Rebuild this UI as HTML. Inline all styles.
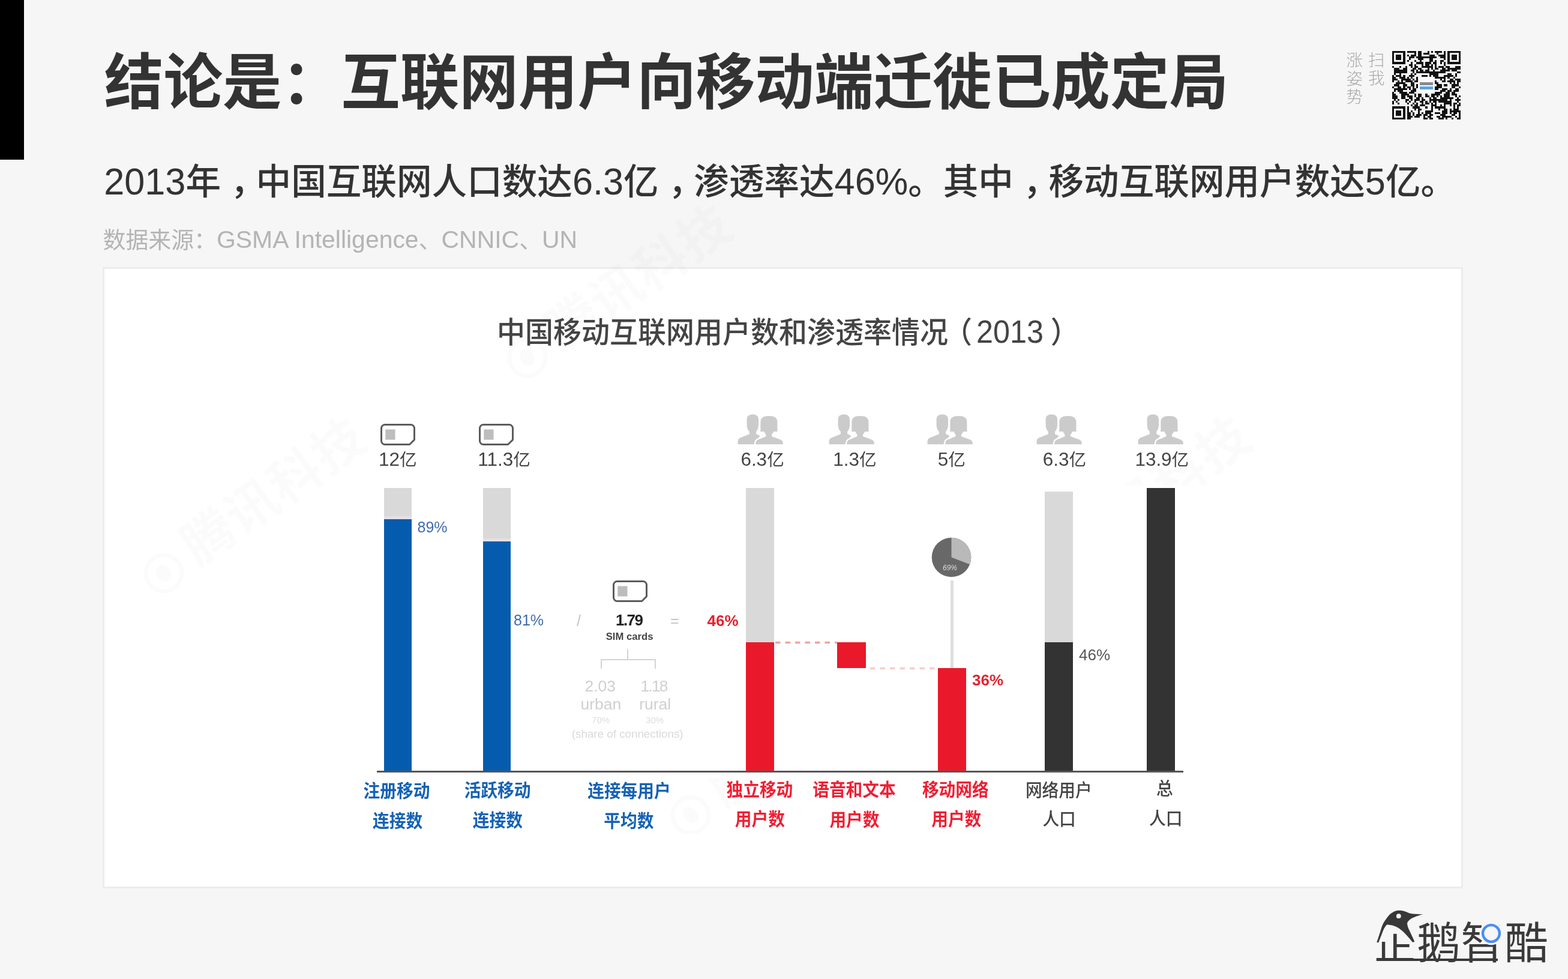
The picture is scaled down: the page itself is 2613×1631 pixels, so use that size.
<!DOCTYPE html><html lang="zh-CN"><head><meta charset="utf-8"><title>结论是：互联网用户向移动端迁徙已成定局</title><style>
html,body{margin:0;padding:0;background:#f6f6f6}
header,main,figure,footer{display:block;margin:0;padding:0}
body{width:2613px;height:1631px;background:#f6f6f6;position:relative;overflow:hidden;font-family:"Liberation Sans","Noto Sans CJK SC",sans-serif}
.abs{position:absolute;display:block}
.t{position:absolute;white-space:nowrap;margin:0;padding:0}
.cm{position:relative;left:16px}
.d{font-size:1.045em}
.d2{font-size:1.07em}
.d3{font-size:1.08em}
.lp{position:relative;left:-7px}
.dv{font-size:1.1em}
.qi{display:inline-block;clip-path:polygon(0 45.5%,44% 45.5%,44% 28.5%,58% 28.5%,58% 45.5%,100% 45.5%,100% 100%,0 100%)}
.rp{position:relative;left:12px}
#card{left:171px;top:445px;width:2267px;height:1034.5px;background:#fff;box-sizing:border-box;border:3px solid #ececec}
.bar{position:absolute}
.wm{position:absolute;white-space:nowrap;font-weight:700;line-height:1;letter-spacing:2px;transform-origin:.4em 50%}
.wmc{display:inline-block;width:.62em;height:.62em;border:.09em solid;border-radius:50%;vertical-align:-.12em;margin-right:.22em;position:relative}
.wmc i{position:absolute;left:.18em;top:.14em;width:.26em;height:.34em;border-radius:50%}
</style></head><body>
<header>
<div class="abs" style="left:0;top:0;width:40px;height:266px;background:#000"></div>
<div id="title" class="t" style="left:173.8px;top:78.71px;font-size:98.6px;font-weight:700;color:#333;line-height:118.32px;transform:scaleY(1.03);">结论是：互联网用户向移动端迁徙已成定局</div>
<div id="sub" class="t" style="left:173.2px;top:266.81px;font-size:58.6px;font-weight:500;color:#333;line-height:70.32px;transform:scaleY(1.03);"><span class="d">2013</span>年<span class="cm">，</span>中国互联网人口数达<span class="d">6.3</span>亿<span class="cm">，</span>渗透率达<span class="d">46%</span>。其中<span class="cm">，</span>移动互联网用户数达<span class="d">5</span>亿。</div>
<div id="src" class="t" style="left:171.5px;top:376.72px;font-size:37.9px;font-weight:400;color:#b4b4b4;line-height:45.48px;">数据来源：<span class="d3">GSMA Intelligence</span>、<span class="d3">CNNIC</span>、<span class="d3">UN</span></div>
<div id="qr1" class="t" style="left:2280px;top:85.87px;font-size:27.5px;font-weight:300;color:#a9a9a9;line-height:30.5px;">扫<br>我</div>
<div id="qr2" class="t" style="left:2243.5px;top:86.37px;font-size:27.5px;font-weight:300;color:#a9a9a9;line-height:30.5px;">涨<br>姿<br>势</div>
<svg class="abs" style="left:2320px;top:85px" width="114" height="114" viewBox="0 0 37 37" shape-rendering="crispEdges"><rect width="37" height="37" fill="#f4f4f4"/><path d="M0 0h7v1h-7zM8 0h5v1h-5zM14 0h2v1h-2zM19 0h1v1h-1zM21 0h1v1h-1zM23 0h4v1h-4zM28 0h1v1h-1zM30 0h7v1h-7zM0 1h1v1h-1zM6 1h1v1h-1zM12 1h1v1h-1zM14 1h2v1h-2zM17 1h3v1h-3zM24 1h1v1h-1zM28 1h1v1h-1zM30 1h1v1h-1zM36 1h1v1h-1zM0 2h1v1h-1zM2 2h3v1h-3zM6 2h1v1h-1zM8 2h1v1h-1zM10 2h3v1h-3zM14 2h2v1h-2zM20 2h3v1h-3zM25 2h4v1h-4zM30 2h1v1h-1zM32 2h3v1h-3zM36 2h1v1h-1zM0 3h1v1h-1zM2 3h3v1h-3zM6 3h1v1h-1zM9 3h3v1h-3zM13 3h11v1h-11zM26 3h3v1h-3zM30 3h1v1h-1zM32 3h3v1h-3zM36 3h1v1h-1zM0 4h1v1h-1zM2 4h3v1h-3zM6 4h1v1h-1zM9 4h1v1h-1zM14 4h3v1h-3zM20 4h2v1h-2zM28 4h1v1h-1zM30 4h1v1h-1zM32 4h3v1h-3zM36 4h1v1h-1zM0 5h1v1h-1zM6 5h1v1h-1zM8 5h1v1h-1zM12 5h1v1h-1zM15 5h1v1h-1zM20 5h2v1h-2zM23 5h1v1h-1zM26 5h2v1h-2zM30 5h1v1h-1zM36 5h1v1h-1zM0 6h7v1h-7zM10 6h1v1h-1zM13 6h4v1h-4zM18 6h3v1h-3zM22 6h2v1h-2zM26 6h1v1h-1zM28 6h1v1h-1zM30 6h7v1h-7zM9 7h2v1h-2zM12 7h1v1h-1zM16 7h1v1h-1zM18 7h2v1h-2zM21 7h1v1h-1zM23 7h1v1h-1zM28 7h1v1h-1zM0 8h1v1h-1zM4 8h1v1h-1zM7 8h1v1h-1zM10 8h1v1h-1zM12 8h2v1h-2zM16 8h6v1h-6zM23 8h1v1h-1zM25 8h3v1h-3zM29 8h2v1h-2zM34 8h3v1h-3zM1 9h3v1h-3zM6 9h2v1h-2zM11 9h2v1h-2zM14 9h2v1h-2zM19 9h1v1h-1zM21 9h1v1h-1zM23 9h2v1h-2zM27 9h2v1h-2zM30 9h7v1h-7zM1 10h7v1h-7zM10 10h2v1h-2zM13 10h1v1h-1zM15 10h2v1h-2zM18 10h2v1h-2zM22 10h1v1h-1zM26 10h5v1h-5zM32 10h3v1h-3zM1 11h7v1h-7zM11 11h1v1h-1zM13 11h16v1h-16zM35 11h2v1h-2zM1 12h1v1h-1zM4 12h1v1h-1zM10 12h1v1h-1zM12 12h1v1h-1zM20 12h5v1h-5zM30 12h2v1h-2zM34 12h1v1h-1zM0 13h1v1h-1zM2 13h3v1h-3zM6 13h1v1h-1zM9 13h3v1h-3zM16 13h3v1h-3zM20 13h1v1h-1zM22 13h3v1h-3zM28 13h5v1h-5zM34 13h1v1h-1zM0 14h2v1h-2zM4 14h3v1h-3zM8 14h1v1h-1zM10 14h1v1h-1zM13 14h1v1h-1zM23 14h6v1h-6zM30 14h1v1h-1zM33 14h1v1h-1zM0 15h3v1h-3zM5 15h5v1h-5zM11 15h1v1h-1zM13 15h1v1h-1zM26 15h1v1h-1zM28 15h1v1h-1zM31 15h2v1h-2zM34 15h3v1h-3zM0 16h1v1h-1zM3 16h1v1h-1zM5 16h1v1h-1zM7 16h4v1h-4zM12 16h2v1h-2zM23 16h1v1h-1zM27 16h2v1h-2zM30 16h4v1h-4zM35 16h2v1h-2zM2 17h5v1h-5zM10 17h2v1h-2zM23 17h2v1h-2zM31 17h1v1h-1zM33 17h1v1h-1zM35 17h1v1h-1zM1 18h3v1h-3zM6 18h2v1h-2zM10 18h2v1h-2zM13 18h1v1h-1zM24 18h3v1h-3zM28 18h2v1h-2zM32 18h4v1h-4zM0 19h1v1h-1zM3 19h2v1h-2zM6 19h1v1h-1zM8 19h2v1h-2zM11 19h1v1h-1zM13 19h1v1h-1zM23 19h4v1h-4zM32 19h2v1h-2zM36 19h1v1h-1zM1 20h7v1h-7zM9 20h1v1h-1zM11 20h2v1h-2zM23 20h2v1h-2zM27 20h3v1h-3zM31 20h1v1h-1zM34 20h2v1h-2zM1 21h1v1h-1zM3 21h3v1h-3zM10 21h3v1h-3zM26 21h3v1h-3zM30 21h2v1h-2zM33 21h3v1h-3zM0 22h1v1h-1zM4 22h4v1h-4zM9 22h3v1h-3zM23 22h4v1h-4zM29 22h2v1h-2zM32 22h2v1h-2zM0 23h2v1h-2zM5 23h4v1h-4zM12 23h1v1h-1zM14 23h2v1h-2zM18 23h1v1h-1zM21 23h5v1h-5zM28 23h3v1h-3zM32 23h3v1h-3zM0 24h3v1h-3zM5 24h2v1h-2zM8 24h3v1h-3zM12 24h1v1h-1zM14 24h2v1h-2zM18 24h2v1h-2zM21 24h2v1h-2zM24 24h1v1h-1zM26 24h1v1h-1zM28 24h3v1h-3zM34 24h1v1h-1zM36 24h1v1h-1zM0 25h3v1h-3zM5 25h2v1h-2zM9 25h2v1h-2zM13 25h2v1h-2zM16 25h1v1h-1zM20 25h1v1h-1zM22 25h2v1h-2zM26 25h7v1h-7zM35 25h1v1h-1zM1 26h1v1h-1zM3 26h1v1h-1zM7 26h2v1h-2zM10 26h1v1h-1zM12 26h3v1h-3zM16 26h2v1h-2zM20 26h10v1h-10zM31 26h1v1h-1zM34 26h3v1h-3zM0 27h1v1h-1zM2 27h1v1h-1zM7 27h1v1h-1zM9 27h1v1h-1zM12 27h1v1h-1zM15 27h2v1h-2zM18 27h1v1h-1zM20 27h1v1h-1zM22 27h2v1h-2zM25 27h7v1h-7zM35 27h1v1h-1zM0 28h1v1h-1zM3 28h1v1h-1zM8 28h1v1h-1zM11 28h1v1h-1zM13 28h1v1h-1zM16 28h1v1h-1zM18 28h2v1h-2zM21 28h1v1h-1zM23 28h1v1h-1zM28 28h4v1h-4zM33 28h2v1h-2zM36 28h1v1h-1zM10 29h1v1h-1zM12 29h2v1h-2zM15 29h3v1h-3zM21 29h3v1h-3zM26 29h1v1h-1zM28 29h1v1h-1zM31 29h1v1h-1zM33 29h1v1h-1zM35 29h2v1h-2zM0 30h7v1h-7zM8 30h1v1h-1zM11 30h4v1h-4zM18 30h1v1h-1zM21 30h1v1h-1zM23 30h6v1h-6zM33 30h1v1h-1zM35 30h1v1h-1zM0 31h1v1h-1zM6 31h1v1h-1zM8 31h1v1h-1zM12 31h1v1h-1zM14 31h2v1h-2zM21 31h1v1h-1zM25 31h1v1h-1zM28 31h2v1h-2zM31 31h1v1h-1zM33 31h3v1h-3zM0 32h1v1h-1zM2 32h3v1h-3zM6 32h1v1h-1zM8 32h1v1h-1zM10 32h1v1h-1zM14 32h1v1h-1zM18 32h4v1h-4zM27 32h3v1h-3zM31 32h6v1h-6zM0 33h1v1h-1zM2 33h3v1h-3zM6 33h1v1h-1zM8 33h2v1h-2zM11 33h1v1h-1zM14 33h1v1h-1zM16 33h1v1h-1zM18 33h3v1h-3zM23 33h3v1h-3zM27 33h3v1h-3zM31 33h1v1h-1zM33 33h2v1h-2zM36 33h1v1h-1zM0 34h1v1h-1zM2 34h3v1h-3zM6 34h1v1h-1zM8 34h2v1h-2zM11 34h1v1h-1zM13 34h3v1h-3zM17 34h2v1h-2zM20 34h2v1h-2zM26 34h3v1h-3zM32 34h2v1h-2zM36 34h1v1h-1zM0 35h1v1h-1zM6 35h1v1h-1zM8 35h3v1h-3zM12 35h3v1h-3zM17 35h1v1h-1zM19 35h2v1h-2zM24 35h2v1h-2zM27 35h5v1h-5zM34 35h1v1h-1zM36 35h1v1h-1zM0 36h7v1h-7zM8 36h2v1h-2zM17 36h2v1h-2zM20 36h2v1h-2zM25 36h3v1h-3zM29 36h1v1h-1zM32 36h1v1h-1zM35 36h2v1h-2z" fill="#111"/><rect x="14.2" y="14.2" width="8.6" height="8.6" fill="#fbfbfb"/><rect x="15" y="17" width="7" height="1.6" fill="#8a8a8a"/><rect x="15" y="19.3" width="7" height="1.6" fill="#5ba4e6"/></svg>
</header>
<main>
<div id="card" class="abs"></div>
<div class="wms">
<div class="wm" style="left:876px;top:590px;font-size:86px;color:rgba(0,0,0,0.016);transform:translate(-.4em,-50%) rotate(-34deg)"><span class="wmc" style="border-color:rgba(0,0,0,0.016)"><i style="background:rgba(0,0,0,0.016)"></i></span>腾讯科技</div>
<div class="wm" style="left:270px;top:949px;font-size:86px;color:rgba(0,0,0,0.016);transform:translate(-.4em,-50%) rotate(-35deg)"><span class="wmc" style="border-color:rgba(0,0,0,0.016)"><i style="background:rgba(0,0,0,0.016)"></i></span>腾讯科技</div>
<div class="abs" style="left:1860px;top:600px;width:340px;height:209px;overflow:hidden"><div class="wm" style="left:-116px;top:347px;font-size:86px;color:rgba(0,0,0,0.016);transform:translate(-.4em,-50%) rotate(-35deg)"><span class="wmc" style="border-color:rgba(0,0,0,0.016)"><i style="background:rgba(0,0,0,0.016)"></i></span>腾讯科技</div></div>
<div class="abs" style="left:1060px;top:1297px;width:200px;height:92px;overflow:hidden"><div class="wm" style="left:88px;top:55px;font-size:86px;color:rgba(0,0,0,0.016);transform:translate(-.4em,-50%) rotate(-35deg)"><span class="wmc" style="border-color:rgba(0,0,0,0.016)"><i style="background:rgba(0,0,0,0.016)"></i></span>腾讯科技</div></div>
</div>
<figure>
<div class="bar" style="left:640px;top:813px;width:46px;height:51px;background:#d9d9d9"></div>
<div class="bar" style="left:640px;top:865px;width:46px;height:420px;background:#055cae"></div>
<div class="bar" style="left:805px;top:813px;width:46px;height:88px;background:#d9d9d9"></div>
<div class="bar" style="left:805px;top:902px;width:46px;height:383px;background:#055cae"></div>
<div class="bar" style="left:1243px;top:813px;width:47px;height:257px;background:#d9d9d9"></div>
<div class="bar" style="left:1243px;top:1070px;width:47px;height:215px;background:#e9192b"></div>
<div class="bar" style="left:1395px;top:1070px;width:48px;height:43px;background:#e9192b"></div>
<div class="bar" style="left:1563px;top:1113px;width:47px;height:172px;background:#e9192b"></div>
<div class="bar" style="left:1741px;top:819px;width:47px;height:251px;background:#d9d9d9"></div>
<div class="bar" style="left:1741px;top:1070px;width:47px;height:215px;background:#333"></div>
<div class="bar" style="left:1911px;top:813px;width:47px;height:472px;background:#333"></div>
<div class="bar" style="left:640px;top:860px;width:46px;height:5px;background:#e3e1e6"></div>
<div class="bar" style="left:805px;top:897px;width:46px;height:5px;background:#e3e1e6"></div>
<div class="bar" style="left:627.5px;top:1284.3px;width:1344.5px;height:3px;background:#555"></div>
<svg class="abs" style="left:1290px;top:1066px" width="275" height="52" viewBox="0 0 275 52"><path d="M2 4.5H105" stroke="#f3a39f" stroke-width="3.4" stroke-dasharray="8.5 8" fill="none"/><path d="M160 47.5H273" stroke="#f5cfc8" stroke-width="3.4" stroke-dasharray="8.5 8" fill="none"/></svg>
<div class="bar" style="left:1584px;top:967px;width:5px;height:146px;background:#dedede"></div>
<svg class="abs" style="left:1552px;top:895px" width="67" height="67" viewBox="-33.5 -33.5 67 67"><circle r="32.8" fill="#686868"/><path d="M0 0V-32.8A32.8 32.8 0 0 1 30.6 11.8Z" fill="#b9b9b9"/></svg>
<svg class="abs" style="left:995px;top:1080px" width="104" height="36" viewBox="0 0 104 36"><path d="M51 2V19M7 34V19H97V34" fill="none" stroke="#d4d4d4" stroke-width="2"/></svg>
<svg class="abs" style="left:632.2px;top:703.6px" width="62" height="40" viewBox="0 0 62 40"><path d="M9.5 3.5H52.5A6 6 0 0 1 58.5 9.5V28.6L50.6 36.5H9.5A6 6 0 0 1 3.5 30.5V9.5A6 6 0 0 1 9.5 3.5Z" fill="#fff" stroke="#5c5c5c" stroke-width="3" stroke-linejoin="round"/><rect x="10.3" y="11.4" width="16.2" height="17.2" fill="#bdbdbd"/></svg>
<svg class="abs" style="left:796.4px;top:703.6px" width="62" height="40" viewBox="0 0 62 40"><path d="M9.5 3.5H52.5A6 6 0 0 1 58.5 9.5V28.6L50.6 36.5H9.5A6 6 0 0 1 3.5 30.5V9.5A6 6 0 0 1 9.5 3.5Z" fill="#fff" stroke="#5c5c5c" stroke-width="3" stroke-linejoin="round"/><rect x="10.3" y="11.4" width="16.2" height="17.2" fill="#bdbdbd"/></svg>
<svg class="abs" style="left:1019px;top:965.1px" width="62" height="40" viewBox="0 0 62 40"><path d="M9.5 3.5H52.5A6 6 0 0 1 58.5 9.5V28.6L50.6 36.5H9.5A6 6 0 0 1 3.5 30.5V9.5A6 6 0 0 1 9.5 3.5Z" fill="#fff" stroke="#5c5c5c" stroke-width="3" stroke-linejoin="round"/><rect x="10.3" y="11.4" width="16.2" height="17.2" fill="#bdbdbd"/></svg>
<svg class="abs" style="left:1228.6px;top:689.5px" width="78" height="52" viewBox="0 0 78 52"><path d="M15.6 9C15.6 3 19 .4 25.3 .4S35 3 35 9V18C35 23 33 27 31.1 29V33L37.5 36L27 50.3H.6V45.5C.6 42 2.5 40 6 38.7L19.9 33.3V29C17.5 27 15.6 23 15.6 18Z" fill="#cbcbcb"/><path d="M38.4 13C38.4 6 43 3 52.4 3S66.4 6 66.4 13V27L67 29H60C59.3 31 58 33 56.9 34V37L70.5 42C74 43.2 75.8 45 75.8 48.5V50.3H30.3V48.5C30.3 45 32 43.2 35.5 42L47.5 37V34C46.4 33 45.2 31 44.5 29H37.8L38.4 27Z" fill="#cbcbcb" stroke="#fff" stroke-width="4.6" paint-order="stroke"/></svg>
<svg class="abs" style="left:1381px;top:689.5px" width="78" height="52" viewBox="0 0 78 52"><path d="M15.6 9C15.6 3 19 .4 25.3 .4S35 3 35 9V18C35 23 33 27 31.1 29V33L37.5 36L27 50.3H.6V45.5C.6 42 2.5 40 6 38.7L19.9 33.3V29C17.5 27 15.6 23 15.6 18Z" fill="#cbcbcb"/><path d="M38.4 13C38.4 6 43 3 52.4 3S66.4 6 66.4 13V27L67 29H60C59.3 31 58 33 56.9 34V37L70.5 42C74 43.2 75.8 45 75.8 48.5V50.3H30.3V48.5C30.3 45 32 43.2 35.5 42L47.5 37V34C46.4 33 45.2 31 44.5 29H37.8L38.4 27Z" fill="#cbcbcb" stroke="#fff" stroke-width="4.6" paint-order="stroke"/></svg>
<svg class="abs" style="left:1544.8px;top:689.5px" width="78" height="52" viewBox="0 0 78 52"><path d="M15.6 9C15.6 3 19 .4 25.3 .4S35 3 35 9V18C35 23 33 27 31.1 29V33L37.5 36L27 50.3H.6V45.5C.6 42 2.5 40 6 38.7L19.9 33.3V29C17.5 27 15.6 23 15.6 18Z" fill="#cbcbcb"/><path d="M38.4 13C38.4 6 43 3 52.4 3S66.4 6 66.4 13V27L67 29H60C59.3 31 58 33 56.9 34V37L70.5 42C74 43.2 75.8 45 75.8 48.5V50.3H30.3V48.5C30.3 45 32 43.2 35.5 42L47.5 37V34C46.4 33 45.2 31 44.5 29H37.8L38.4 27Z" fill="#cbcbcb" stroke="#fff" stroke-width="4.6" paint-order="stroke"/></svg>
<svg class="abs" style="left:1726.5px;top:689.5px" width="78" height="52" viewBox="0 0 78 52"><path d="M15.6 9C15.6 3 19 .4 25.3 .4S35 3 35 9V18C35 23 33 27 31.1 29V33L37.5 36L27 50.3H.6V45.5C.6 42 2.5 40 6 38.7L19.9 33.3V29C17.5 27 15.6 23 15.6 18Z" fill="#cbcbcb"/><path d="M38.4 13C38.4 6 43 3 52.4 3S66.4 6 66.4 13V27L67 29H60C59.3 31 58 33 56.9 34V37L70.5 42C74 43.2 75.8 45 75.8 48.5V50.3H30.3V48.5C30.3 45 32 43.2 35.5 42L47.5 37V34C46.4 33 45.2 31 44.5 29H37.8L38.4 27Z" fill="#cbcbcb" stroke="#fff" stroke-width="4.6" paint-order="stroke"/></svg>
<svg class="abs" style="left:1896px;top:689.5px" width="78" height="52" viewBox="0 0 78 52"><path d="M15.6 9C15.6 3 19 .4 25.3 .4S35 3 35 9V18C35 23 33 27 31.1 29V33L37.5 36L27 50.3H.6V45.5C.6 42 2.5 40 6 38.7L19.9 33.3V29C17.5 27 15.6 23 15.6 18Z" fill="#cbcbcb"/><path d="M38.4 13C38.4 6 43 3 52.4 3S66.4 6 66.4 13V27L67 29H60C59.3 31 58 33 56.9 34V37L70.5 42C74 43.2 75.8 45 75.8 48.5V50.3H30.3V48.5C30.3 45 32 43.2 35.5 42L47.5 37V34C46.4 33 45.2 31 44.5 29H37.8L38.4 27Z" fill="#cbcbcb" stroke="#fff" stroke-width="4.6" paint-order="stroke"/></svg>
<div id="ctitle" class="t" style="left:828px;top:524.95px;font-size:47px;font-weight:500;color:#444;line-height:56.4px;transform:scaleY(1.05);">中国移动互联网用户数和渗透率情况<span class="lp">（</span><span class="d2">2013</span><span class="rp">）</span></div>
<div id="v0" class="t" style="left:631px;top:748.51px;font-size:28.6px;font-weight:400;color:#444;line-height:34.32px;"><span class="dv">12</span>亿</div>
<div id="v1" class="t" style="left:796.3px;top:748.51px;font-size:28.6px;font-weight:400;color:#444;line-height:34.32px;"><span class="dv">11.3</span>亿</div>
<div id="v2" class="t" style="left:1234.4px;top:748.51px;font-size:28.6px;font-weight:400;color:#444;line-height:34.32px;"><span class="dv">6.3</span>亿</div>
<div id="v3" class="t" style="left:1388.2px;top:748.51px;font-size:28.6px;font-weight:400;color:#444;line-height:34.32px;"><span class="dv">1.3</span>亿</div>
<div id="v4" class="t" style="left:1562.8px;top:748.51px;font-size:28.6px;font-weight:400;color:#444;line-height:34.32px;"><span class="dv">5</span>亿</div>
<div id="v5" class="t" style="left:1737.8px;top:748.51px;font-size:28.6px;font-weight:400;color:#444;line-height:34.32px;"><span class="dv">6.3</span>亿</div>
<div id="v6" class="t" style="left:1891.4px;top:748.51px;font-size:28.6px;font-weight:400;color:#444;line-height:34.32px;"><span class="dv">13.9</span>亿</div>
<div id="p89" class="t" style="left:695.5px;top:863.05px;font-size:25px;font-weight:400;color:#3f6cad;line-height:30px;">89%</div>
<div id="p81" class="t" style="left:856px;top:1018.25px;font-size:25px;font-weight:400;color:#3f6cad;line-height:30px;">81%</div>
<div id="slash" class="t" style="left:961px;top:1019.25px;font-size:25px;font-weight:400;color:#c4c4c4;line-height:30px;">/</div>
<div id="n179" class="t" style="left:1026.1px;top:1018.1px;font-size:26px;font-weight:700;color:#222;line-height:31.2px;letter-spacing:-1.6px;">1.79</div>
<div id="sim" class="t" style="left:1009.7px;top:1051.49px;font-size:16.7px;font-weight:700;color:#444;line-height:20.04px;">SIM cards</div>
<div id="eq" class="t" style="left:1117px;top:1019.25px;font-size:25px;font-weight:400;color:#c4c4c4;line-height:30px;">=</div>
<div id="p46r" class="t" style="left:1178.6px;top:1018.6px;font-size:26px;font-weight:700;color:#e0252f;line-height:31.2px;">46%</div>
<div id="p36" class="t" style="left:1620px;top:1117.5px;font-size:26px;font-weight:700;color:#e0252f;line-height:31.2px;">36%</div>
<div id="p46d" class="t" style="left:1798px;top:1075.6px;font-size:26px;font-weight:400;color:#555;line-height:31.2px;">46%</div>
<div id="n203" class="t" style="left:974.4px;top:1127.53px;font-size:26.5px;font-weight:400;color:#d0d0d0;line-height:31.8px;">2.03</div>
<div id="n118" class="t" style="left:1067.4px;top:1127.53px;font-size:26.5px;font-weight:400;color:#d0d0d0;line-height:31.8px;letter-spacing:-1.8px;">1.18</div>
<div id="urban" class="t" style="left:967.4px;top:1158.02px;font-size:26.5px;font-weight:400;color:#d0d0d0;line-height:31.8px;">urban</div>
<div id="rural" class="t" style="left:1065.2px;top:1158.02px;font-size:26.5px;font-weight:400;color:#d0d0d0;line-height:31.8px;">rural</div>
<div id="n70" class="t" style="left:986.1px;top:1191.35px;font-size:15px;font-weight:400;color:#dedede;line-height:18px;">70%</div>
<div id="n30" class="t" style="left:1076.2px;top:1191.35px;font-size:15px;font-weight:400;color:#dedede;line-height:18px;">30%</div>
<div id="share" class="t" style="left:952.8px;top:1211.78px;font-size:18.8px;font-weight:400;color:#dadada;line-height:22.56px;">(share of connections)</div>
<div id="pie69" class="t" style="left:1571px;top:938.7px;font-size:12px;font-weight:400;color:#dcdcdc;line-height:14.4px;font-style:italic;">69%</div>
<div id="b0a" class="t" style="left:605.6px;top:1300.84px;font-size:27.7px;font-weight:700;color:#1562b4;line-height:33.24px;transform:scaleY(1.06);">注册移动</div>
<div id="b0b" class="t" style="left:621px;top:1350.84px;font-size:27.7px;font-weight:700;color:#1562b4;line-height:33.24px;transform:scaleY(1.06);">连接数</div>
<div id="b1a" class="t" style="left:773.7px;top:1300.34px;font-size:27.7px;font-weight:700;color:#1562b4;line-height:33.24px;transform:scaleY(1.06);">活跃移动</div>
<div id="b1b" class="t" style="left:787.8px;top:1350.34px;font-size:27.7px;font-weight:700;color:#1562b4;line-height:33.24px;transform:scaleY(1.06);">连接数</div>
<div id="b2a" class="t" style="left:979.2px;top:1301.34px;font-size:27.7px;font-weight:700;color:#1562b4;line-height:33.24px;transform:scaleY(1.06);">连接每用户</div>
<div id="b2b" class="t" style="left:1006.3px;top:1350.84px;font-size:27.7px;font-weight:700;color:#1562b4;line-height:33.24px;transform:scaleY(1.06);">平均数</div>
<div id="b3a" class="t" style="left:1210.5px;top:1299.35px;font-size:27.7px;font-weight:700;color:#f01f33;line-height:33.24px;transform:scaleY(1.06);">独立移动</div>
<div id="b3b" class="t" style="left:1224.8px;top:1348.45px;font-size:27.7px;font-weight:700;color:#f01f33;line-height:33.24px;transform:scaleY(1.06);">用户数</div>
<div id="b4a" class="t" style="left:1354.2px;top:1299.35px;font-size:27.7px;font-weight:700;color:#f01f33;line-height:33.24px;transform:scaleY(1.06);">语音和文本</div>
<div id="b4b" class="t" style="left:1382.4px;top:1349.45px;font-size:27.7px;font-weight:700;color:#f01f33;line-height:33.24px;transform:scaleY(1.06);">用户数</div>
<div id="b5a" class="t" style="left:1536.9px;top:1299.35px;font-size:27.7px;font-weight:700;color:#f01f33;line-height:33.24px;transform:scaleY(1.06);">移动网络</div>
<div id="b5b" class="t" style="left:1552.2px;top:1348.45px;font-size:27.7px;font-weight:700;color:#f01f33;line-height:33.24px;transform:scaleY(1.06);">用户数</div>
<div id="b6a" class="t" style="left:1708.9px;top:1300.35px;font-size:27.7px;font-weight:500;color:#444;line-height:33.24px;transform:scaleY(1.06);">网络用户</div>
<div id="b6b" class="t" style="left:1737.4px;top:1348.44px;font-size:27.7px;font-weight:500;color:#444;line-height:33.24px;transform:scaleY(1.06);">人口</div>
<div id="b7a" class="t" style="left:1927px;top:1296.85px;font-size:27.7px;font-weight:500;color:#444;line-height:33.24px;transform:scaleY(1.06);">总</div>
<div id="b7b" class="t" style="left:1915px;top:1346.85px;font-size:27.7px;font-weight:500;color:#444;line-height:33.24px;transform:scaleY(1.06);">人口</div>
</figure>
</main>
<footer>
<div id="lg" class="t" style="left:2288px;top:1528.74px;font-size:72.4px;font-weight:400;color:#3a3a3a;line-height:86.88px;letter-spacing:.8px;"><span class="qi">企</span>鹅智酷</div>
<svg class="abs" style="left:2280px;top:1500px" width="110" height="110" viewBox="0 0 110 110"><path d="M14.3 69.8C17 62 19 56 20.6 50.8C23 42 26 36 29.4 31.7C33 26 37 22 41.3 19.8C44 18 47 16.7 50.8 16.7C54 16.7 57 17 60.3 17.9C64 19 67 20.5 69.8 21.8C76 23 84 23 91.3 23C86 24.5 82 26 79.4 27C75 28.5 72 30 69.8 31.7C67 34 65.5 36 65 38.1C65 42 67 47 69 50.8C71 55 73 59 74.6 62.7L77.4 69L73.8 69.8C72 67 70 64.5 67.5 61.9C65 59 62 56 59.5 53.2C56 50 53 47.5 49.2 45.2C45 43 42 42 38.1 41.3C35.5 40.8 33 40.5 31 40.5C29 43 27.5 45 26.2 47.6C24 52 23 56 21.4 59.5L17.1 70.6Z" fill="#383838"/><circle cx="50.8" cy="26.2" r="3.9" fill="#f6f6f6"/></svg><div class="bar" style="left:2294px;top:1596.6px;width:202px;height:4.6px;background:#3a3a3a"></div><svg class="abs" style="left:2461.4px;top:1531px" width="48" height="48" viewBox="-24 -24 48 48"><circle r="19.5" fill="#f6f6f6"/><circle r="13.9" fill="#f6f6f6" stroke="#4d8df5" stroke-width="4.4"/></svg>
</footer>
</body></html>
